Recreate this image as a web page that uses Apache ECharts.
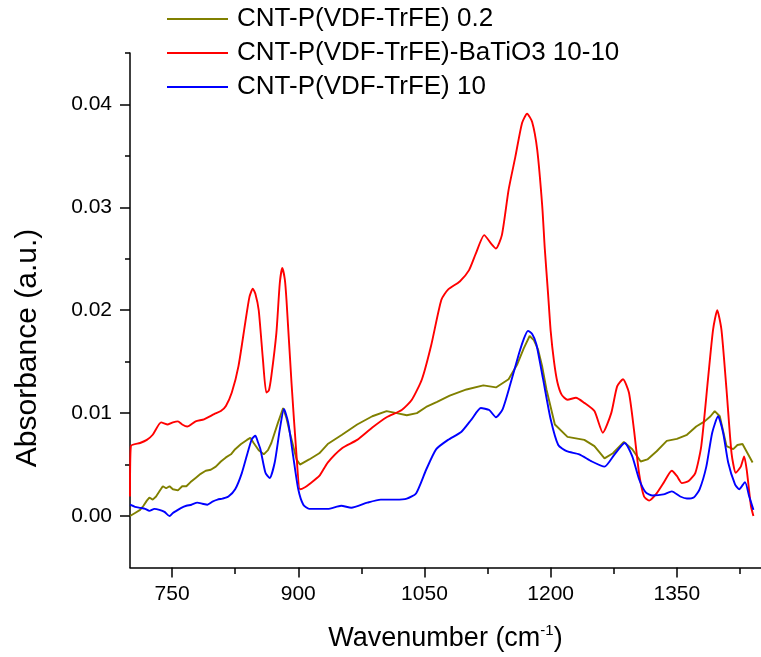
<!DOCTYPE html>
<html>
<head>
<meta charset="utf-8">
<script src="https://cdn.jsdelivr.net/npm/echarts@6/dist/echarts.min.js"></script>
<style>
html,body{margin:0;padding:0;background:#fff;}
#chart{width:761px;height:657px;}
</style>
</head>
<body>
<div id="chart"></div>
<script>
// ---- data ----
const seriesNames = ['CNT-P(VDF-TrFE) 0.2', 'CNT-P(VDF-TrFE)-BaTiO3 10-10', 'CNT-P(VDF-TrFE) 10'];

const wnOlive = [700,706,712,716,720,723,727,731,735,739,743,747,751,757,762,767,772,778,784,790,796,802,808,814,820,825,832,839,843,847,853,859,864,868,876,882,886,890,898,902,913,925,935,952,970,988,1005,1017,1029,1041,1052,1065,1080,1100,1120,1135,1150,1160,1168,1175,1180,1185,1190,1195,1205,1220,1240,1252,1264,1274,1287,1297,1307,1315,1326,1338,1350,1362,1373,1383,1390,1395,1401,1409,1417,1422,1428,1434,1440];
const absOlive = [0.0000,0.0003,0.0006,0.0010,0.0015,0.0018,0.0016,0.0019,0.0024,0.0029,0.0027,0.0029,0.0026,0.0025,0.0029,0.0029,0.0033,0.0037,0.0041,0.0044,0.0045,0.0048,0.0053,0.0057,0.0060,0.0065,0.0070,0.0074,0.0076,0.0071,0.0064,0.0060,0.0064,0.0071,0.0091,0.0105,0.0095,0.0081,0.0055,0.0050,0.0055,0.0061,0.0070,0.0079,0.0089,0.0097,0.0102,0.0100,0.0098,0.0100,0.0106,0.0111,0.0117,0.0123,0.0127,0.0125,0.0133,0.0147,0.0163,0.0175,0.0171,0.0162,0.0145,0.0123,0.0089,0.0077,0.0074,0.0068,0.0056,0.0061,0.0072,0.0065,0.0053,0.0055,0.0063,0.0073,0.0075,0.0079,0.0087,0.0092,0.0097,0.0102,0.0097,0.0068,0.0065,0.0069,0.0070,0.0061,0.0052];

const wnRed = [700,701,712,720,727,737,745,751,757,762,768,778,788,800,808,814,821,829,837,842,846,849,853,858,862,865,868,874,878,881,884,886,892,898,902,908,913,925,935,952,970,988,1005,1023,1035,1047,1058,1070,1078,1092,1103,1111,1121,1129,1135,1142,1150,1158,1166,1172,1178,1184,1190,1193,1197,1200,1204,1208,1213,1220,1230,1240,1252,1262,1272,1279,1286,1293,1299,1305,1311,1317,1325,1334,1344,1350,1356,1364,1372,1379,1387,1393,1398,1403,1409,1415,1420,1426,1430,1433,1438,1441];
const absRed = [0.0019,0.0068,0.0071,0.0074,0.0079,0.0091,0.0089,0.0091,0.0092,0.0089,0.0087,0.0092,0.0094,0.0099,0.0102,0.0107,0.0120,0.0146,0.0188,0.0213,0.0221,0.0216,0.0200,0.0152,0.0120,0.0122,0.0136,0.0178,0.0226,0.0241,0.0230,0.0210,0.0129,0.0058,0.0026,0.0028,0.0031,0.0039,0.0052,0.0066,0.0074,0.0086,0.0096,0.0103,0.0113,0.0133,0.0166,0.0210,0.0220,0.0228,0.0239,0.0255,0.0273,0.0265,0.0260,0.0273,0.0317,0.0349,0.0382,0.0391,0.0383,0.0356,0.0301,0.0260,0.0215,0.0180,0.0150,0.0130,0.0118,0.0113,0.0115,0.0110,0.0102,0.0081,0.0100,0.0126,0.0133,0.0120,0.0084,0.0042,0.0019,0.0015,0.0021,0.0032,0.0044,0.0039,0.0032,0.0034,0.0042,0.0068,0.0133,0.0181,0.0200,0.0181,0.0123,0.0061,0.0042,0.0048,0.0058,0.0045,0.0010,0.0000];

const wnBlue = [700,706,712,718,723,729,735,741,747,751,755,761,767,773,780,786,792,798,804,810,817,825,833,841,845,849,852,855,861,866,872,878,883,888,894,900,906,913,925,935,951,963,982,998,1016,1029,1040,1052,1064,1078,1094,1106,1117,1127,1135,1143,1152,1162,1168,1173,1178,1183,1191,1200,1209,1219,1234,1249,1264,1276,1288,1297,1305,1313,1321,1334,1344,1354,1362,1370,1377,1385,1392,1399,1405,1411,1419,1424,1431,1436,1441];
const absBlue = [0.0011,0.0009,0.0008,0.0007,0.0005,0.0007,0.0006,0.0004,0.0000,0.0003,0.0005,0.0008,0.0010,0.0011,0.0013,0.0012,0.0011,0.0014,0.0016,0.0017,0.0019,0.0026,0.0042,0.0065,0.0075,0.0078,0.0072,0.0065,0.0042,0.0037,0.0052,0.0084,0.0104,0.0091,0.0058,0.0026,0.0011,0.0007,0.0007,0.0007,0.0010,0.0008,0.0013,0.0016,0.0016,0.0017,0.0022,0.0045,0.0065,0.0074,0.0082,0.0094,0.0105,0.0103,0.0096,0.0104,0.0128,0.0157,0.0172,0.0180,0.0177,0.0167,0.0133,0.0094,0.0069,0.0063,0.0060,0.0053,0.0048,0.0060,0.0071,0.0058,0.0036,0.0023,0.0020,0.0021,0.0024,0.0019,0.0017,0.0018,0.0026,0.0048,0.0081,0.0097,0.0081,0.0052,0.0031,0.0026,0.0033,0.0019,0.0006];

const xMajorTicks = [750, 900, 1050, 1200, 1350];
const xMinorTicks = [825, 975, 1125, 1275, 1425];
const yMajorTicks = [0, 0.01, 0.02, 0.03, 0.04];
const yMinorTicks = [0.005, 0.015, 0.025, 0.035, 0.045];
const xRange = [700, 1450];
const yRange = [-0.005, 0.045];

// ---- chart ----
const FONT = 'Arial, "Liberation Sans", sans-serif';
const pairs = (xs, ys) => xs.map((x, i) => [x, ys[i]]);
const colors = ['#808000', '#ff0000', '#0000ff'];
const gridRect = { left: 130, right: -7, top: 53, bottom: 89, containLabel: false };

const chart = echarts.init(document.getElementById('chart'), null, { renderer: 'canvas' });
chart.setOption({
  animation: false,
  backgroundColor: '#ffffff',
  grid: [Object.assign({}, gridRect), Object.assign({}, gridRect)],
  legend: {
    orient: 'vertical',
    left: 167,
    top: 6,
    padding: 0,
    itemWidth: 61,
    itemHeight: 2,
    itemGap: 8,
    icon: 'rect',
    selectedMode: false,
    textStyle: { fontSize: 26, fontFamily: FONT, color: '#000', padding: [0, 0, 0, 4] },
    data: seriesNames
  },
  xAxis: [{
    type: 'value', gridIndex: 0, min: xRange[0], max: xRange[1],
    name: '{a|Wavenumber (cm}{s|-1}{a|)}',
    nameLocation: 'middle', nameGap: 56,
    nameTextStyle: {
      rich: {
        a: { fontSize: 27, fontFamily: FONT, color: '#000', lineHeight: 30 },
        s: { fontSize: 15, fontFamily: FONT, color: '#000', verticalAlign: 'top', lineHeight: 30, padding: [0, 0, 12, 0] }
      }
    },
    splitLine: { show: false },
    axisLine: { show: true, onZero: false, lineStyle: { color: '#000', width: 1.5 } },
    axisTick: { show: true, length: 10, customValues: xMajorTicks, lineStyle: { color: '#000', width: 1.5 } },
    axisLabel: { customValues: xMajorTicks, margin: 16, fontSize: 21, fontFamily: FONT, color: '#000', formatter: v => String(v) }
  }, {
    type: 'value', gridIndex: 1, min: xRange[0], max: xRange[1], position: 'bottom',
    splitLine: { show: false },
    axisLine: { show: false, onZero: false },
    axisTick: { show: true, length: 6, customValues: xMinorTicks, lineStyle: { color: '#000', width: 1.5 } },
    axisLabel: { show: false }
  }],
  yAxis: [{
    type: 'value', gridIndex: 0, min: yRange[0], max: yRange[1],
    splitLine: { show: false },
    axisLine: { show: true, onZero: false, lineStyle: { color: '#000', width: 1.5 } },
    axisTick: { show: true, length: 10, customValues: yMajorTicks, lineStyle: { color: '#000', width: 1.5 } },
    axisLabel: { customValues: yMajorTicks, margin: 18, fontSize: 21, fontFamily: FONT, color: '#000', formatter: v => v.toFixed(2) }
  }, {
    type: 'value', gridIndex: 1, min: yRange[0], max: yRange[1], position: 'left',
    splitLine: { show: false },
    axisLine: { show: false, onZero: false },
    axisTick: { show: true, length: 5, customValues: yMinorTicks, lineStyle: { color: '#000', width: 1.5 } },
    axisLabel: { show: false }
  }],
  graphic: [{
    type: 'text',
    x: 28, y: 348,
    rotation: Math.PI / 2,
    style: { text: 'Absorbance (a.u.)', fontSize: 30, fontFamily: FONT, fill: '#000', align: 'center', verticalAlign: 'middle' }
  }],
  series: [
    { name: seriesNames[0], type: 'line', xAxisIndex: 0, yAxisIndex: 0, data: pairs(wnOlive, absOlive), showSymbol: false, symbol: 'none', smooth: false, color: colors[0], lineStyle: { width: 1.9, color: colors[0] } },
    { name: seriesNames[1], type: 'line', xAxisIndex: 0, yAxisIndex: 0, data: pairs(wnRed, absRed), showSymbol: false, symbol: 'none', smooth: 0.2, color: colors[1], lineStyle: { width: 1.9, color: colors[1] } },
    { name: seriesNames[2], type: 'line', xAxisIndex: 0, yAxisIndex: 0, data: pairs(wnBlue, absBlue), showSymbol: false, symbol: 'none', smooth: 0.2, color: colors[2], lineStyle: { width: 1.9, color: colors[2] } }
  ]
});
</script>
</body>
</html>
